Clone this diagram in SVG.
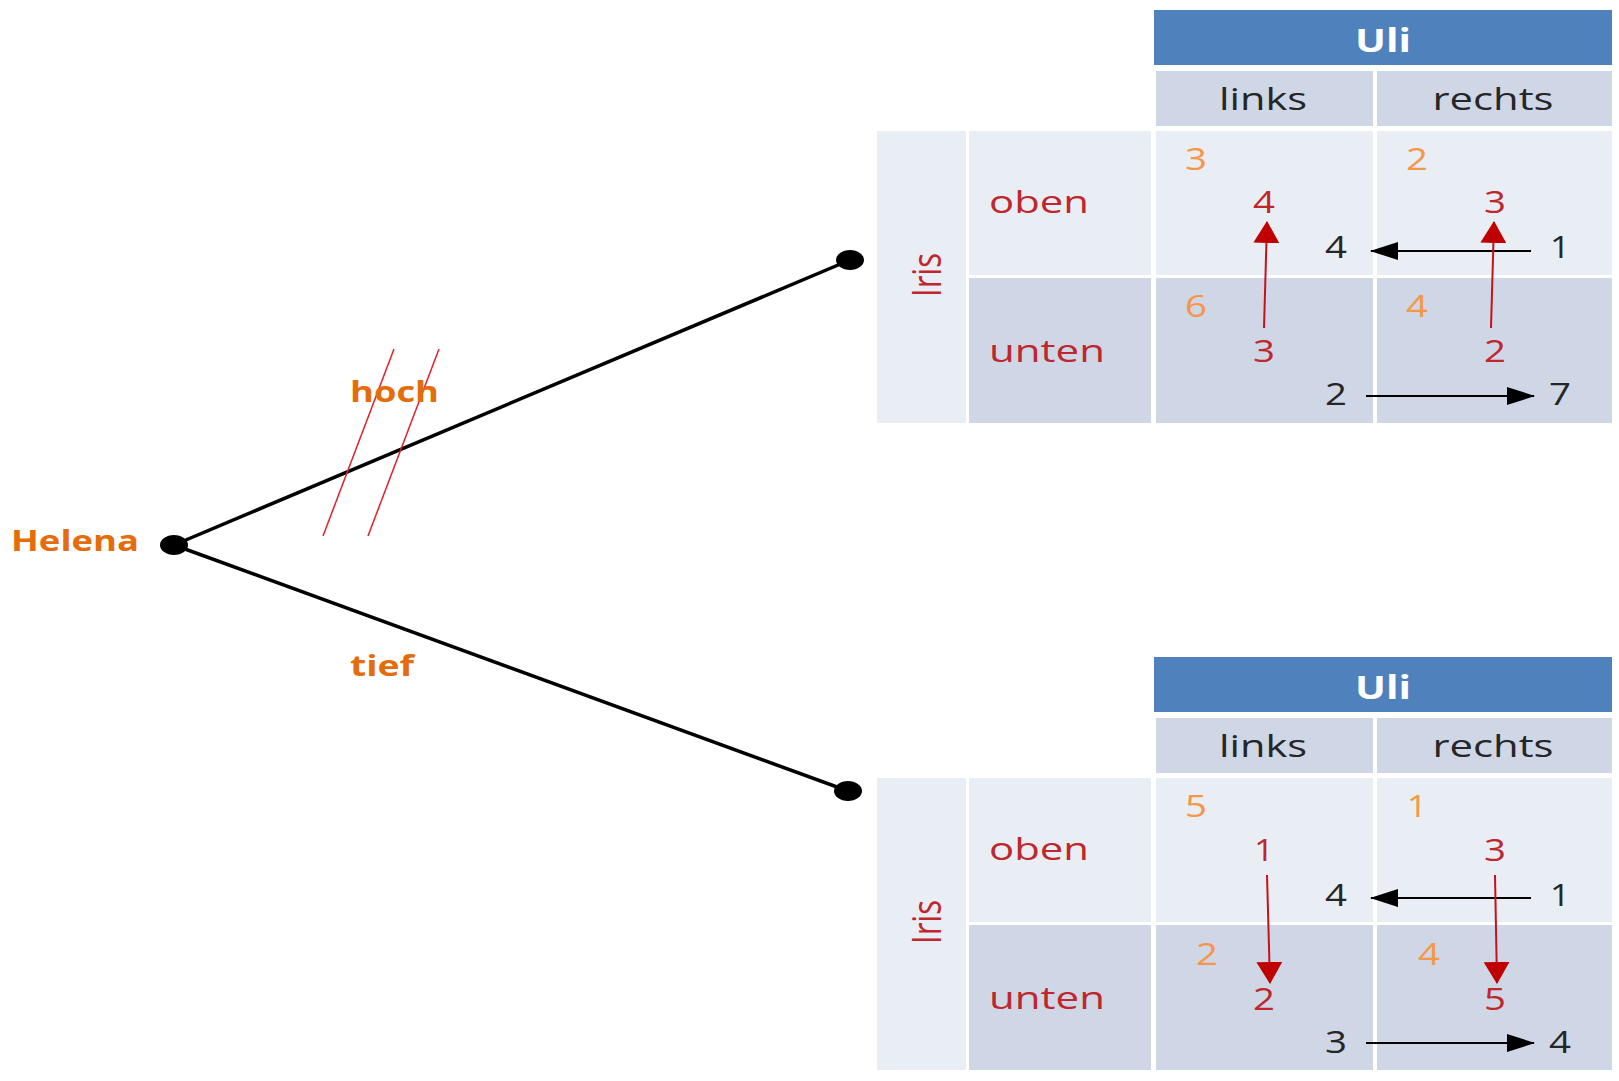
<svg xmlns="http://www.w3.org/2000/svg" width="1619" height="1081" viewBox="0 0 1619 1081">
<style>
.hdr{fill:#4F81BD}
.sub{fill:#CFD7E7}
.lt{fill:#E9EDF4}
.dk{fill:#CFD7E7}
text{font-family:"Open Sans","DejaVu Sans",sans-serif}
.uli{font-size:32px;font-weight:bold;fill:#fff}
.col{font-size:31px;fill:#262626}
.row{font-size:31px;fill:#C0272D}
.o{font-size:31px;fill:#F79646}
.r{font-size:31px;fill:#C0272D}
.b{font-size:31px;fill:#262626}
.name{font-weight:bold;fill:#E46C0A}
.tree{stroke:#000;stroke-width:3.5;fill:none}
.slash{stroke:#E0202A;stroke-width:1.5}
.ba{stroke:#000;stroke-width:2;marker-end:url(#mb)}
.ra{stroke:#C8101A;stroke-width:2;marker-end:url(#mr)}
.dot{fill:#000}
</style>
<defs>
<marker id="mb" markerUnits="userSpaceOnUse" markerWidth="28" markerHeight="18" refX="27" refY="9" orient="auto">
<path d="M0,0 L28,9 L0,18 z" fill="#000"/>
</marker>
<marker id="mr" markerUnits="userSpaceOnUse" markerWidth="22" markerHeight="26" refX="21" refY="13" orient="auto">
<path d="M0,0 L22,13 L0,26 z" fill="#C00000"/>
</marker>
<g id="table">
<rect class="hdr" x="1154" y="10" width="458" height="55"/>
<rect class="sub" x="1156" y="71" width="217" height="55"/>
<rect class="sub" x="1377" y="71" width="235" height="55"/>
<rect class="lt" x="877" y="131" width="89" height="292"/>
<rect class="lt" x="969" y="131" width="182" height="144"/>
<rect class="dk" x="969" y="278" width="182" height="145"/>
<rect class="lt" x="1156" y="131" width="217" height="144"/>
<rect class="lt" x="1377" y="131" width="235" height="144"/>
<rect class="dk" x="1156" y="278" width="217" height="145"/>
<rect class="dk" x="1377" y="278" width="235" height="145"/>
<text class="uli" x="1383" y="52" text-anchor="middle" textLength="56" lengthAdjust="spacingAndGlyphs">Uli</text>
<text class="col" x="1263" y="110" text-anchor="middle" textLength="88" lengthAdjust="spacingAndGlyphs">links</text>
<text class="col" x="1493" y="110" text-anchor="middle" textLength="121" lengthAdjust="spacingAndGlyphs">rechts</text>
<text class="row" x="989" y="213" textLength="100" lengthAdjust="spacingAndGlyphs">oben</text>
<text class="row" x="989" y="362" textLength="116" lengthAdjust="spacingAndGlyphs">unten</text>
<text class="row" transform="translate(941,275) scale(1.3,1) rotate(-90)" text-anchor="middle" font-size="31">Iris</text>
</g>
</defs>

<g id="connectors">
<line class="tree" x1="174" y1="545" x2="850" y2="260"/>
<line class="tree" x1="174" y1="545" x2="848" y2="791"/>
<line class="slash" x1="394" y1="349" x2="323" y2="536"/>
<line class="slash" x1="439" y1="349" x2="368" y2="536"/>
</g>

<g id="helena">
<ellipse class="dot" cx="174" cy="545" rx="14" ry="10"/>
<text class="name" x="11" y="551" font-size="29" textLength="128" lengthAdjust="spacingAndGlyphs">Helena</text>
</g>
<g id="label-hoch">
<text class="name" x="350" y="402" font-size="28" textLength="89" lengthAdjust="spacingAndGlyphs">hoch</text>
</g>
<g id="label-tief">
<text class="name" x="350" y="676" font-size="28" textLength="64" lengthAdjust="spacingAndGlyphs">tief</text>
</g>
<g id="node-top">
<ellipse class="dot" cx="850" cy="260" rx="14" ry="10"/>
</g>
<g id="node-bottom">
<ellipse class="dot" cx="848" cy="791" rx="14" ry="10"/>
</g>

<g id="table-top">
<use href="#table"/>
<text class="o" x="1196" y="170" text-anchor="middle" textLength="22" lengthAdjust="spacingAndGlyphs">3</text>
<text class="o" x="1417" y="170" text-anchor="middle" textLength="22" lengthAdjust="spacingAndGlyphs">2</text>
<text class="r" x="1264" y="213" text-anchor="middle" textLength="22" lengthAdjust="spacingAndGlyphs">4</text>
<text class="r" x="1495" y="213" text-anchor="middle" textLength="22" lengthAdjust="spacingAndGlyphs">3</text>
<text class="b" x="1336" y="258" text-anchor="middle" textLength="22" lengthAdjust="spacingAndGlyphs">4</text>
<text class="b" x="1560" y="258" text-anchor="middle" textLength="20" lengthAdjust="spacingAndGlyphs">1</text>
<text class="o" x="1196" y="317" text-anchor="middle" textLength="22" lengthAdjust="spacingAndGlyphs">6</text>
<text class="o" x="1417" y="317" text-anchor="middle" textLength="22" lengthAdjust="spacingAndGlyphs">4</text>
<text class="r" x="1264" y="362" text-anchor="middle" textLength="22" lengthAdjust="spacingAndGlyphs">3</text>
<text class="r" x="1495" y="362" text-anchor="middle" textLength="22" lengthAdjust="spacingAndGlyphs">2</text>
<text class="b" x="1336" y="405" text-anchor="middle" textLength="22" lengthAdjust="spacingAndGlyphs">2</text>
<text class="b" x="1560" y="405" text-anchor="middle" textLength="22" lengthAdjust="spacingAndGlyphs">7</text>
<line class="ba" x1="1531" y1="251" x2="1371" y2="251"/>
<line class="ba" x1="1366" y1="396" x2="1534" y2="396"/>
<line class="ra" x1="1264" y1="328" x2="1267" y2="222"/>
<line class="ra" x1="1491" y1="328" x2="1494" y2="222"/>
</g>

<g id="table-bottom" transform="translate(0,647)">
<use href="#table"/>
<text class="o" x="1196" y="170" text-anchor="middle" textLength="22" lengthAdjust="spacingAndGlyphs">5</text>
<text class="o" x="1417" y="170" text-anchor="middle" textLength="20" lengthAdjust="spacingAndGlyphs">1</text>
<text class="r" x="1264" y="214" text-anchor="middle" textLength="20" lengthAdjust="spacingAndGlyphs">1</text>
<text class="r" x="1495" y="214" text-anchor="middle" textLength="22" lengthAdjust="spacingAndGlyphs">3</text>
<text class="b" x="1336" y="259" text-anchor="middle" textLength="22" lengthAdjust="spacingAndGlyphs">4</text>
<text class="b" x="1560" y="259" text-anchor="middle" textLength="20" lengthAdjust="spacingAndGlyphs">1</text>
<text class="o" x="1207" y="318" text-anchor="middle" textLength="22" lengthAdjust="spacingAndGlyphs">2</text>
<text class="o" x="1429" y="318" text-anchor="middle" textLength="22" lengthAdjust="spacingAndGlyphs">4</text>
<text class="r" x="1264" y="363" text-anchor="middle" textLength="22" lengthAdjust="spacingAndGlyphs">2</text>
<text class="r" x="1495" y="363" text-anchor="middle" textLength="22" lengthAdjust="spacingAndGlyphs">5</text>
<text class="b" x="1336" y="406" text-anchor="middle" textLength="22" lengthAdjust="spacingAndGlyphs">3</text>
<text class="b" x="1560" y="406" text-anchor="middle" textLength="22" lengthAdjust="spacingAndGlyphs">4</text>
<line class="ba" x1="1531" y1="251" x2="1371" y2="251"/>
<line class="ba" x1="1366" y1="396" x2="1534" y2="396"/>
<line class="ra" x1="1267" y1="228" x2="1270" y2="336"/>
<line class="ra" x1="1495" y1="228" x2="1497" y2="336"/>
</g>
</svg>
